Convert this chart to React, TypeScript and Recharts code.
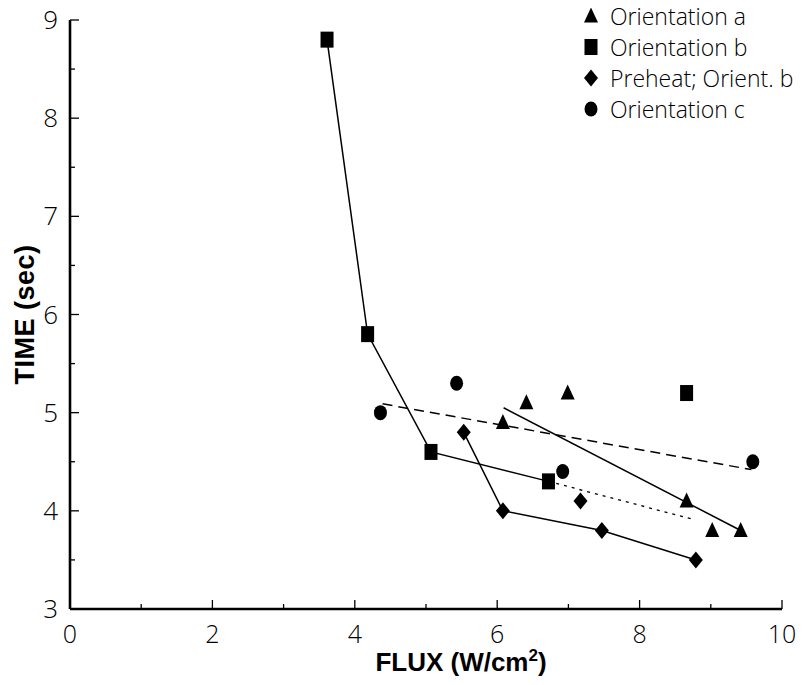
import React from "react";
import { ScatterChart, Scatter, XAxis, YAxis } from "recharts";

// Measured points: flux (W/cm^2) vs. time (sec)
const orientationA = [
  { x: 6.08, y: 4.9 },
  { x: 6.41, y: 5.1 },
  { x: 6.99, y: 5.2 },
  { x: 8.66, y: 4.1 },
  { x: 9.02, y: 3.8 },
  { x: 9.42, y: 3.8 },
];
const orientationB = [
  { x: 3.61, y: 8.8 },
  { x: 4.18, y: 5.8 },
  { x: 5.07, y: 4.6 },
  { x: 6.72, y: 4.3 },
  { x: 8.66, y: 5.2 },
];
const preheatB = [
  { x: 5.53, y: 4.8 },
  { x: 6.08, y: 4.0 },
  { x: 7.17, y: 4.1 },
  { x: 7.47, y: 3.8 },
  { x: 8.79, y: 3.5 },
];
const orientationC = [
  { x: 4.36, y: 5.0 },
  { x: 5.43, y: 5.3 },
  { x: 6.92, y: 4.4 },
  { x: 9.59, y: 4.5 },
];

// Connecting curves and trend lines
const orientationBCurve = [
  { x: 3.61, y: 8.8 },
  { x: 4.18, y: 5.8 },
  { x: 5.07, y: 4.6 },
  { x: 6.72, y: 4.3 },
];
const orientationBTrend = [
  { x: 6.72, y: 4.3 },
  { x: 8.77, y: 3.91 },
];
const preheatCurve = [
  { x: 5.53, y: 4.8 },
  { x: 6.08, y: 4.0 },
  { x: 7.47, y: 3.8 },
  { x: 8.79, y: 3.5 },
];
const orientationATrend = [
  { x: 6.09, y: 5.05 },
  { x: 9.42, y: 3.8 },
];
const orientationCTrend = [
  { x: 4.39, y: 5.09 },
  { x: 9.57, y: 4.42 },
];

const xTicks = [0, 1, 2, 3, 4, 5, 6, 7, 8, 9, 10];
const yTicks = [3, 3.5, 4, 4.5, 5, 5.5, 6, 6.5, 7, 7.5, 8, 8.5, 9];

const legendItems = [
  { label: "Orientation a", marker: "triangle" },
  { label: "Orientation b", marker: "square" },
  { label: "Preheat; Orient. b", marker: "diamond" },
  { label: "Orientation c", marker: "circle" },
];

const TICK_FONT = "'Open Sans', 'Lato', 'DejaVu Sans', sans-serif";
const TITLE_FONT = "'Liberation Sans', Arial, sans-serif";

const markerPath = (kind: string, cx: number, cy: number) => {
  switch (kind) {
    case "triangle":
      return <polygon points={`${cx},${cy - 8.5} ${cx + 7},${cy + 6.5} ${cx - 7},${cy + 6.5}`} fill="#000" />;
    case "square":
      return <rect x={cx - 6.5} y={cy - 8} width={13} height={16} fill="#000" />;
    case "diamond":
      return <polygon points={`${cx},${cy - 8.5} ${cx + 7},${cy} ${cx},${cy + 8.5} ${cx - 7},${cy}`} fill="#000" />;
    default:
      return <ellipse cx={cx} cy={cy} rx={6.5} ry={7.5} fill="#000" />;
  }
};

const shapeOf = (kind: string) => (props: any) => {
  const { cx, cy } = props;
  if (cx == null || cy == null) return <g />;
  return markerPath(kind, cx, cy);
};

const NoShape = () => <g />;

const XTick = (props: any) => {
  const { x, y, payload } = props;
  const v = payload.value;
  const major = v % 2 === 0;
  return (
    <g>
      <line x1={x} x2={x} y1={y} y2={y - (major ? 9 : 5)} stroke="#000" strokeWidth={1.3} />
      {major && (
        <text x={x} y={y + 34} textAnchor="middle" fontFamily={TICK_FONT} fontWeight={300} fontSize={25} fill="#000">
          {v}
        </text>
      )}
    </g>
  );
};

const YTick = (props: any) => {
  const { x, y, payload } = props;
  const v = payload.value;
  const major = Number.isInteger(v);
  return (
    <g>
      <line x1={x} x2={x + (major ? 9 : 5)} y1={y} y2={y} stroke="#000" strokeWidth={1.3} />
      {major && (
        <text x={x - 12} y={y + 9} textAnchor="end" fontFamily={TICK_FONT} fontWeight={300} fontSize={26} fill="#000">
          {v}
        </text>
      )}
    </g>
  );
};

const XTitle = (props: any) => {
  const vb = props.viewBox || {};
  const cx = vb.x + vb.width / 2 + 35;
  return (
    <text x={cx} y={vb.y + 62} textAnchor="middle" fontFamily={TITLE_FONT} fontWeight={700} fontSize={26} fill="#000">
      FLUX (W/cm
      <tspan dy={-10} fontSize={17}>2</tspan>
      <tspan dy={10}>)</tspan>
    </text>
  );
};

const YTitle = (props: any) => {
  const vb = props.viewBox || {};
  const cy = vb.y + vb.height / 2;
  const x = 26;
  return (
    <text
      x={x}
      y={cy}
      transform={`rotate(-90 ${x} ${cy})`}
      textAnchor="middle"
      fontFamily={TITLE_FONT}
      fontWeight={700}
      fontSize={27}
      letterSpacing={0.5}
      fill="#000"
    >
      {"TIME (sec)"}
    </text>
  );
};

const ChartLegend = () => (
  <div style={{ position: "absolute", left: 573, top: 0, display: "flex", flexDirection: "column" }}>
    {legendItems.map((it) => (
      <div key={it.label} style={{ display: "flex", alignItems: "center", height: 31 }}>
        <svg width={20} height={20} style={{ marginRight: 9 }}>
          {markerPath(it.marker, 10, 10)}
        </svg>
        <span
          style={{
            fontFamily: TICK_FONT,
            fontWeight: 300,
            fontSize: 23,
            lineHeight: "24px",
            color: "#000",
            whiteSpace: "nowrap",
          }}
        >
          {it.label}
        </span>
      </div>
    ))}
  </div>
);

export default function App() {
  const lineSolid = { stroke: "#000", strokeWidth: 1.5 };
  return (
    <div style={{ position: "relative", width: 801, height: 677, marginTop: -8 }}>
      <ScatterChart width={801} height={677} margin={{ top: 20, right: 27, left: 0, bottom: 0 }}>
        <XAxis
          type="number"
          dataKey="x"
          domain={[0, 10]}
          ticks={xTicks}
          interval={0}
          height={68}
          tickSize={0}
          tickMargin={0}
          tickLine={false}
          tick={<XTick />}
          axisLine={{ stroke: "#000", strokeWidth: 2.6 }}
          label={<XTitle />}
        />
        <YAxis
          type="number"
          dataKey="y"
          domain={[3, 9]}
          ticks={yTicks}
          interval={0}
          width={62}
          tickSize={0}
          tickMargin={0}
          tickLine={false}
          tick={<YTick />}
          axisLine={{ stroke: "#000", strokeWidth: 2.6 }}
          label={<YTitle />}
        />
        <Scatter data={orientationBCurve} shape={NoShape} line={lineSolid} legendType="none" isAnimationActive={false} />
        <Scatter
          data={orientationBTrend}
          shape={NoShape}
          line={{ stroke: "#000", strokeWidth: 1.3, strokeDasharray: "3 5" }}
          legendType="none"
          isAnimationActive={false}
        />
        <Scatter data={preheatCurve} shape={NoShape} line={lineSolid} legendType="none" isAnimationActive={false} />
        <Scatter data={orientationATrend} shape={NoShape} line={lineSolid} legendType="none" isAnimationActive={false} />
        <Scatter
          data={orientationCTrend}
          shape={NoShape}
          line={{ stroke: "#000", strokeWidth: 1.5, strokeDasharray: "10 6" }}
          legendType="none"
          isAnimationActive={false}
        />
        <Scatter name="Orientation a" data={orientationA} shape={shapeOf("triangle")} isAnimationActive={false} />
        <Scatter name="Orientation b" data={orientationB} shape={shapeOf("square")} isAnimationActive={false} />
        <Scatter name="Preheat; Orient. b" data={preheatB} shape={shapeOf("diamond")} isAnimationActive={false} />
        <Scatter name="Orientation c" data={orientationC} shape={shapeOf("circle")} isAnimationActive={false} />
      </ScatterChart>
      <ChartLegend />
    </div>
  );
}
